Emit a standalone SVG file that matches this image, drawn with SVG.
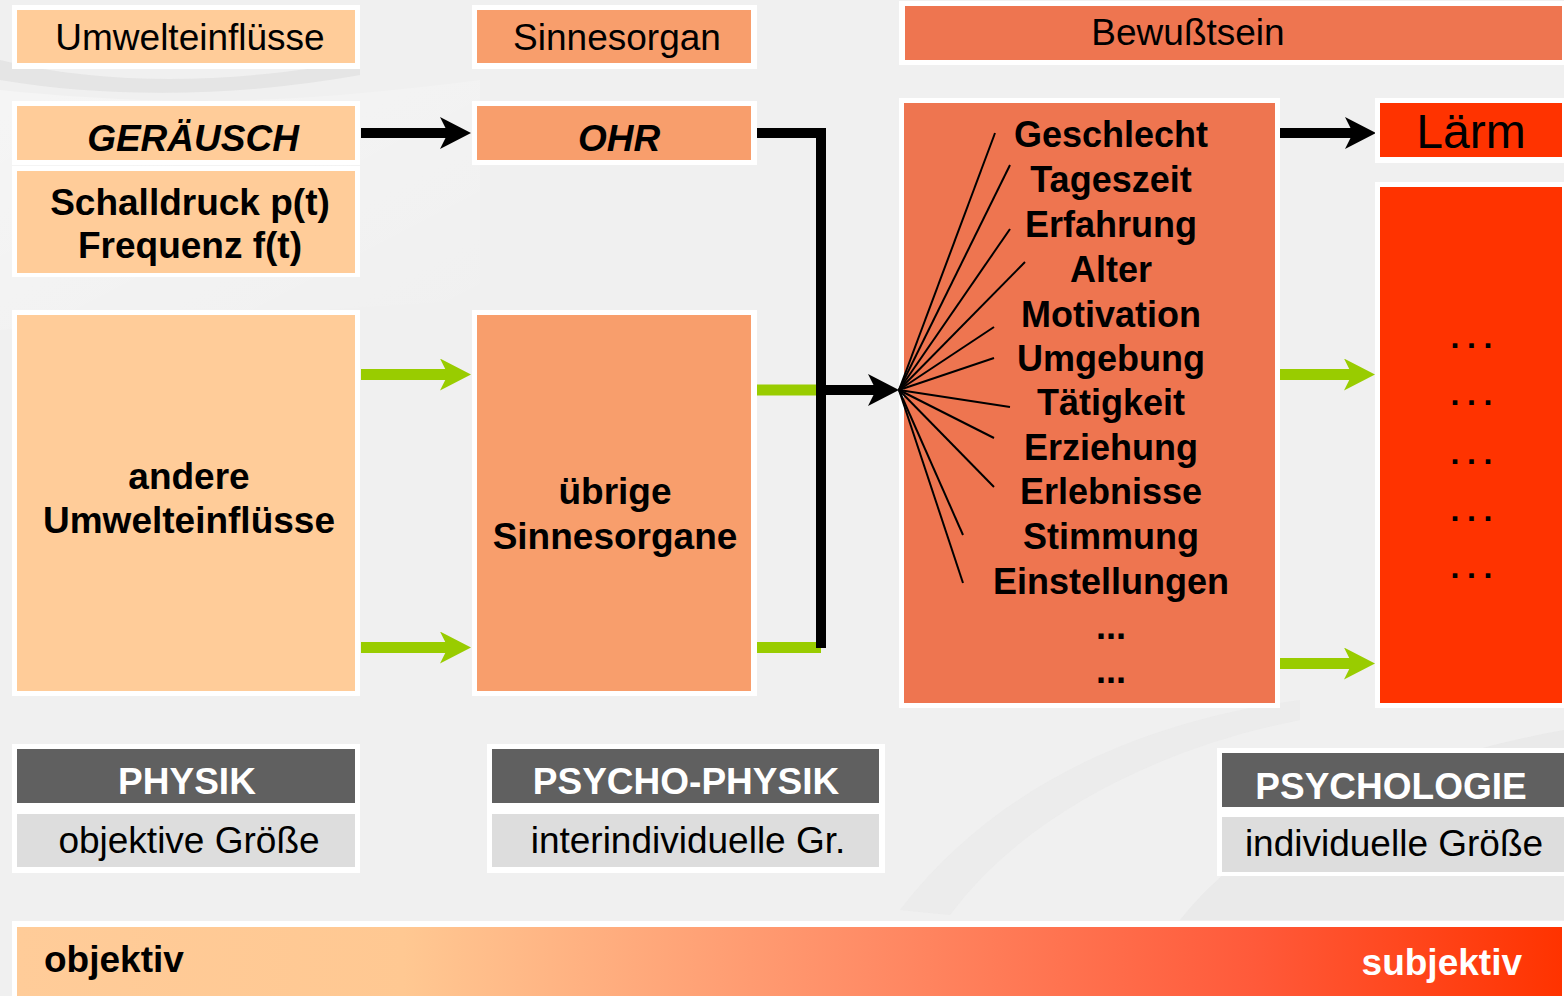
<svg xmlns="http://www.w3.org/2000/svg" width="1564" height="996" viewBox="0 0 1564 996">
<style>
  text { font-family: "Liberation Sans", Arial, sans-serif; fill: #000; text-anchor: middle; }
  .reg { font-size: 37px; }
  .bold { font-size: 37px; font-weight: bold; }
  .bi { font-size: 37px; font-weight: bold; font-style: italic; }
  .fac { font-size: 36px; font-weight: bold; }
  .white { fill: #fff; }
  .frame { fill: #fff; }
  .peach { fill: #FFCC99; }
  .salmon { fill: #F89E6C; }
  .coral { fill: #EE7550; }
  .red { fill: #FF3300; }
  .dark { fill: #606060; }
  .light { fill: #DDDDDD; }
  .blk { stroke: #000; stroke-width: 10; fill: none; }
  .grn { stroke: #99CC00; stroke-width: 11; fill: none; }
  .fan { stroke: #000; stroke-width: 2; }
  .dots { font-size: 32px; font-weight: bold; letter-spacing: 7.6px; text-anchor: start; }
</style>
<defs>
  <marker id="ahB" viewBox="0 0 31 32" refX="10" refY="16" markerWidth="31" markerHeight="32" markerUnits="userSpaceOnUse" orient="auto">
    <path d="M0,0 L31,16 L0,32 L8,16 Z" fill="#000"/>
  </marker>
  <marker id="ahG" viewBox="0 0 31 32" refX="10" refY="16" markerWidth="31" markerHeight="32" markerUnits="userSpaceOnUse" orient="auto">
    <path d="M0,0 L31,16 L0,32 L8,16 Z" fill="#99CC00"/>
  </marker>
  <linearGradient id="bar" x1="0" y1="0" x2="1" y2="0">
    <stop offset="0" stop-color="#FFCC99"/>
    <stop offset="0.25" stop-color="#FFC892"/>
    <stop offset="0.55" stop-color="#FF8C66"/>
    <stop offset="0.8" stop-color="#FF5A3A"/>
    <stop offset="1" stop-color="#FF3300"/>
  </linearGradient>
  <linearGradient id="sw" x1="0" y1="0" x2="1" y2="1">
    <stop offset="0" stop-color="#ffffff" stop-opacity="0.6"/>
    <stop offset="1" stop-color="#ffffff" stop-opacity="0"/>
  </linearGradient>
</defs>

<!-- background -->
<rect x="0" y="0" width="1564" height="996" fill="#F0F0F0"/>
<path d="M0,60 C120,90 260,80 360,60 L360,75 C250,95 120,100 0,80 Z" fill="#DADADA" opacity="0.5"/>
<path d="M0,90 C200,110 320,100 480,80 L480,300 L0,330 Z" fill="url(#sw)" opacity="0.6"/>
<path d="M1180,920 C1260,820 1400,760 1564,730 L1564,920 Z" fill="#E4E4E4" opacity="0.5"/>
<path d="M900,910 C1000,780 1150,720 1300,700 L1300,720 C1150,750 1020,820 950,915 Z" fill="#E8E8E8" opacity="0.5"/>

<!-- connectors -->
<g id="connectors">
  <line class="grn" x1="757" y1="390" x2="816" y2="390"/>
  <line class="grn" x1="757" y1="647.5" x2="821" y2="647.5"/>
  <polyline class="blk" points="757,133 821,133 821,648"/>
  <line class="blk" x1="361" y1="133" x2="450" y2="133" marker-end="url(#ahB)"/>
  <line class="blk" x1="821" y1="390" x2="878" y2="390" marker-end="url(#ahB)"/>
  <line class="blk" x1="1280" y1="133" x2="1355" y2="133" marker-end="url(#ahB)"/>
  <line class="grn" x1="361" y1="374.5" x2="450" y2="374.5" marker-end="url(#ahG)"/>
  <line class="grn" x1="361" y1="647.5" x2="450" y2="647.5" marker-end="url(#ahG)"/>
  <line class="grn" x1="1280" y1="374.5" x2="1354" y2="374.5" marker-end="url(#ahG)"/>
  <line class="grn" x1="1280" y1="663.5" x2="1354" y2="663.5" marker-end="url(#ahG)"/>
</g>

<!-- left column -->
<g id="umwelteinfluesse">
  <rect class="frame" x="12" y="5" width="348" height="64"/>
  <rect class="peach" x="17" y="10" width="338" height="53"/>
  <text class="reg" x="190" y="50">Umwelteinflüsse</text>
</g>
<g id="geraeusch">
  <rect class="frame" x="12" y="101" width="348" height="64"/>
  <rect class="peach" x="17" y="106" width="338" height="54"/>
  <text class="bi" x="193" y="151">GERÄUSCH</text>
</g>
<g id="schalldruck">
  <rect class="frame" x="12" y="166" width="348" height="111"/>
  <rect class="peach" x="17" y="171" width="338" height="102"/>
  <text class="bold" x="190" y="215">Schalldruck p(t)</text>
  <text class="bold" x="190" y="258">Frequenz f(t)</text>
</g>
<g id="andere">
  <rect class="frame" x="12" y="310" width="348" height="386"/>
  <rect class="peach" x="17" y="315" width="338" height="376"/>
  <text class="bold" x="189" y="489">andere</text>
  <text class="bold" x="189" y="533">Umwelteinflüsse</text>
</g>

<!-- middle column -->
<g id="sinnesorgan">
  <rect class="frame" x="472" y="5" width="285" height="64"/>
  <rect class="salmon" x="477" y="10" width="274" height="53"/>
  <text class="reg" x="617" y="50">Sinnesorgan</text>
</g>
<g id="ohr">
  <rect class="frame" x="472" y="101" width="285" height="64"/>
  <rect class="salmon" x="477" y="106" width="274" height="54"/>
  <text class="bi" x="619" y="151">OHR</text>
</g>
<g id="uebrige">
  <rect class="frame" x="472" y="310" width="285" height="386"/>
  <rect class="salmon" x="477" y="315" width="274" height="376"/>
  <text class="bold" x="615" y="504">übrige</text>
  <text class="bold" x="615" y="549">Sinnesorgane</text>
</g>

<!-- Bewusstsein -->
<g id="bewusstsein">
  <rect class="frame" x="899" y="1" width="670" height="64"/>
  <rect class="coral" x="905" y="6" width="657" height="54"/>
  <text class="reg" x="1188" y="45">Bewußtsein</text>
</g>
<g id="faktoren">
  <rect class="frame" x="899" y="98" width="381" height="610"/>
  <rect class="coral" x="904" y="103" width="371" height="600"/>
  <g>
    <line class="fan" x1="899" y1="390" x2="995" y2="133"/>
    <line class="fan" x1="899" y1="390" x2="1010" y2="165"/>
    <line class="fan" x1="899" y1="390" x2="1010" y2="229"/>
    <line class="fan" x1="899" y1="390" x2="1025" y2="262"/>
    <line class="fan" x1="899" y1="390" x2="994" y2="327"/>
    <line class="fan" x1="899" y1="390" x2="994" y2="358"/>
    <line class="fan" x1="899" y1="390" x2="1010" y2="407"/>
    <line class="fan" x1="899" y1="390" x2="994" y2="438"/>
    <line class="fan" x1="899" y1="390" x2="994" y2="487"/>
    <line class="fan" x1="899" y1="390" x2="963" y2="535"/>
    <line class="fan" x1="899" y1="390" x2="963" y2="583"/>
  </g>
  <text class="fac" x="1111" y="147">Geschlecht</text>
  <text class="fac" x="1111" y="192">Tageszeit</text>
  <text class="fac" x="1111" y="237">Erfahrung</text>
  <text class="fac" x="1111" y="282">Alter</text>
  <text class="fac" x="1111" y="327">Motivation</text>
  <text class="fac" x="1111" y="371">Umgebung</text>
  <text class="fac" x="1111" y="415">Tätigkeit</text>
  <text class="fac" x="1111" y="460">Erziehung</text>
  <text class="fac" x="1111" y="504">Erlebnisse</text>
  <text class="fac" x="1111" y="549">Stimmung</text>
  <text class="fac" x="1111" y="594">Einstellungen</text>
  <text class="fac" x="1111" y="639">...</text>
  <text class="fac" x="1111" y="683">...</text>
</g>

<!-- right column -->
<g id="laerm">
  <rect class="frame" x="1375" y="98" width="194" height="65"/>
  <rect class="red" x="1380" y="103" width="182" height="54"/>
  <text x="1471" y="148" style="font-size:48px">Lärm</text>
</g>
<g id="laerm-details">
  <rect class="frame" x="1375" y="182" width="194" height="526"/>
  <rect class="red" x="1380" y="187" width="182" height="516"/>
  <text class="dots" x="1450.5" y="348">...</text>
  <text class="dots" x="1450.5" y="405">...</text>
  <text class="dots" x="1450.5" y="464">...</text>
  <text class="dots" x="1450.5" y="521">...</text>
  <text class="dots" x="1450.5" y="578">...</text>
</g>

<!-- bottom category boxes -->
<g id="physik">
  <rect class="frame" x="12" y="744" width="348" height="129"/>
  <rect class="dark" x="17" y="749" width="338" height="54"/>
  <rect class="light" x="17" y="814" width="338" height="53"/>
  <text class="bold white" x="187" y="794">PHYSIK</text>
  <text class="reg" x="189" y="853">objektive Größe</text>
</g>
<g id="psychophysik">
  <rect class="frame" x="487" y="744" width="398" height="129"/>
  <rect class="dark" x="492" y="749" width="387" height="54"/>
  <rect class="light" x="492" y="814" width="387" height="53"/>
  <text class="bold white" x="686" y="794">PSYCHO-PHYSIK</text>
  <text class="reg" x="688" y="853">interindividuelle Gr.</text>
</g>
<g id="psychologie">
  <rect class="frame" x="1217" y="748" width="352" height="128"/>
  <rect class="dark" x="1222" y="753" width="342" height="54"/>
  <rect class="light" x="1222" y="817" width="342" height="55"/>
  <text class="bold white" x="1391" y="799">PSYCHOLOGIE</text>
  <text class="reg" x="1394" y="856">individuelle Größe</text>
</g>

<!-- bottom gradient bar -->
<g id="skala">
  <rect class="frame" x="12" y="921" width="1557" height="80"/>
  <rect x="17" y="927" width="1545" height="75" fill="url(#bar)"/>
  <text class="bold" x="44" y="972" style="text-anchor:start">objektiv</text>
  <text class="bold white" x="1522" y="975" style="text-anchor:end">subjektiv</text>
</g>
</svg>
